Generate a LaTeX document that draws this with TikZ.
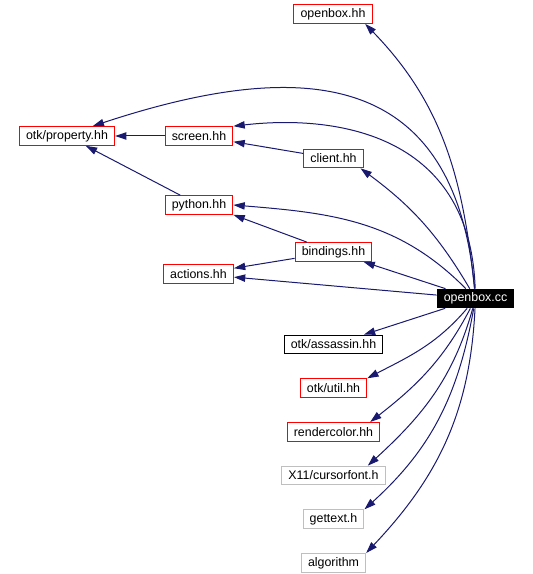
\documentclass[tikz,border=0pt]{standalone}
\usepackage{fontspec}
\setmainfont{Liberation Sans}
\usetikzlibrary{arrows.meta,positioning}
\definecolor{edgeblue}{HTML}{191970}
\definecolor{incred}{HTML}{FF0000}
\definecolor{sysgray}{HTML}{BFBFBF}

\begin{document}
\begin{tikzpicture}[
  x=0.75pt, y=-0.75pt,
  >={Triangle[length=8.5pt,width=5.5pt]},
  file/.style={draw, line width=0.75pt, inner xsep=5pt, inner ysep=0pt,
               minimum height=14pt, font=\fontsize{9.3}{11}\selectfont},
  inc/.style={file, draw=incred},
  incblack/.style={file, draw=black},
  sysinc/.style={file, draw=sysgray},
  src/.style={file, fill=black, text=white},
  uses/.style={->, line width=0.75pt, color=edgeblue}
]
  \useasboundingbox (0,0) rectangle (532,574);
  %% source file
  \node[src] (cc) at (475.5,298.5) {openbox.cc};
  %% headers above
  \node[inc] (ohh)      at (333,14)    {openbox.hh};
  \node[inc] (prop)     at (67,136)    {otk/property.hh};
  \node[inc] (screen)   at (199,136)   {screen.hh};
  \node[inc] (client)   at (333.5,158.5) {client.hh};
  \node[inc] (python)   at (199,205)   {python.hh};
  \node[inc] (bindings) at (333.5,252) {bindings.hh};
  \node[inc] (actions)  at (198.5,274) {actions.hh};
  %% headers below
  \node[incblack] (assassin) at (333.5,344.5) {otk/assassin.hh};
  \node[inc, below=18pt of assassin] (util)    {otk/util.hh};
  \node[inc, below=18pt of util]     (rc)      {rendercolor.hh};
  \node[sysinc, below=18pt of rc]    (x11)     {X11/cursorfont.h};
  \node[sysinc, below=18pt of x11]   (gettext) {gettext.h};
  \node[sysinc, below=18pt of gettext] (algo)  {algorithm};
  %% from openbox.cc upwards
  \draw[uses] (cc) .. controls (463,177) and (442,103) .. (ohh.-17);
  \draw[uses] (cc) .. controls (455,70) and (305,56) .. (prop.21);
  \draw[uses] (cc) .. controls (470,130) and (330,115) .. (screen.north east);
  \draw[uses] (cc) .. controls (437,233) and (410,205) .. (client.-20);
  \draw[uses] (cc) .. controls (398,220) and (331,213) .. (python.east);
  \draw[uses] (cc) -- (bindings);
  \draw[uses] (cc) -- (actions);
  %% between headers
  \draw[uses] (screen) -- (prop);
  \draw[uses] (client) -- (screen);
  \draw[uses] (python) -- (prop);
  \draw[uses] (bindings) -- (python.south east);
  \draw[uses] (bindings) -- (actions);
  %% from openbox.cc downwards
  \draw[uses] (cc) -- (assassin);
  \draw[uses] (cc) .. controls (436,345) and (408,357) .. (util.north east);
  \draw[uses] (cc) .. controls (443,361) and (415,387) .. (rc.15);
  \draw[uses] (cc) .. controls (453,379) and (422,416) .. (x11.16);
  \draw[uses] (cc) .. controls (458,396) and (431,449) .. (gettext.north east);
  \draw[uses] (cc) .. controls (470,411) and (439,476) .. (algo.north east);
\end{tikzpicture}
\end{document}
